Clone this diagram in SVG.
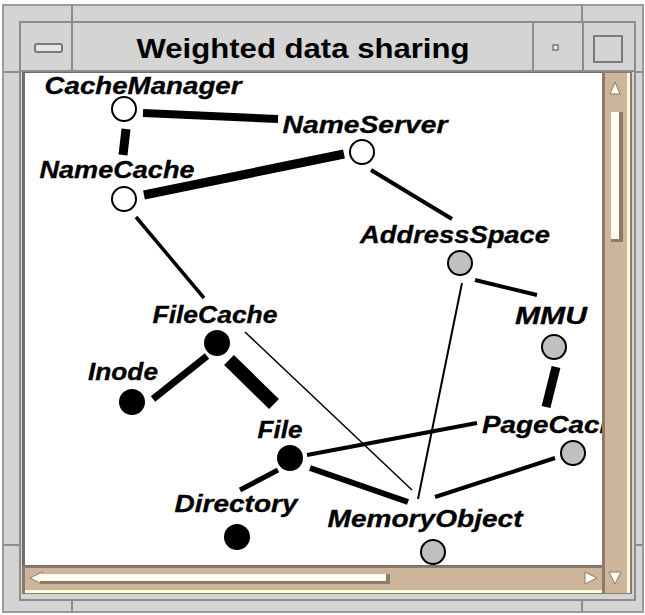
<svg xmlns="http://www.w3.org/2000/svg" width="645" height="615" viewBox="0 0 645 615">
  <style>
    .frame { fill: #d4d4d4; stroke: #9a9a9a; stroke-width: 2; }
    .bevel { fill: none; stroke: #8c8c8c; stroke-width: 2; }
    .title { font-family: "Liberation Sans", Arial, sans-serif; font-weight: bold; font-size: 27px; fill: #000; }
    .label { font-family: "Liberation Sans", Arial, sans-serif; font-weight: bold; font-style: italic; font-size: 23px; fill: #000; stroke: #000; stroke-width: 0.3; }
    .edge { stroke: #000; fill: none; stroke-linecap: butt; }
    .node circle { stroke: #000; stroke-width: 2; }
    .open circle { fill: #fff; }
    .grey circle { fill: #c0c0c0; }
    .solid circle { fill: #000; }
    .trough { fill: #cdb59c; }
  </style>
  <defs>
    <clipPath id="canvasClip">
      <rect x="25" y="73" width="577" height="492"/>
    </clipPath>
  </defs>

  <!-- window frame -->
  <rect x="0" y="0" width="645" height="615" fill="#ffffff"/>
  <rect class="frame" x="3" y="5" width="640" height="607"/>
  <rect class="bevel" x="20" y="22" width="615" height="578"/>
  <g stroke="#8c8c8c" stroke-width="2">
    <line x1="72" y1="5" x2="72" y2="22"/>
    <line x1="582" y1="5" x2="582" y2="22"/>
    <line x1="72" y1="600" x2="72" y2="612"/>
    <line x1="582" y1="600" x2="582" y2="612"/>
    <line x1="3" y1="72" x2="20" y2="72"/>
    <line x1="3" y1="545" x2="20" y2="545"/>
    <line x1="635" y1="72" x2="643" y2="72"/>
    <line x1="635" y1="545" x2="643" y2="545"/>
    <!-- title bar dividers -->
    <line x1="72" y1="22" x2="72" y2="72"/>
    <line x1="533" y1="22" x2="533" y2="72"/>
    <line x1="583" y1="22" x2="583" y2="72"/>
    <line x1="20" y1="71" x2="635" y2="71"/>
  </g>

  <!-- title bar buttons -->
  <rect x="35" y="44" width="27" height="8" rx="2" fill="#e6e6e6" stroke="#7a7a7a" stroke-width="2"/>
  <rect x="553" y="45" width="5" height="5" fill="#e6e6e6" stroke="#7a7a7a" stroke-width="1.5"/>
  <rect x="594" y="36" width="28" height="26" fill="none" stroke="#7a7a7a" stroke-width="2"/>
  <text class="title" x="303" y="58" text-anchor="middle" textLength="333" lengthAdjust="spacingAndGlyphs">Weighted data sharing</text>

  <!-- drawing canvas -->
  <rect x="22" y="72" width="581" height="494" fill="#6e6e6e"/>
  <rect x="25" y="73" width="577" height="492" fill="#ffffff"/>

  <!-- vertical scrollbar -->
  <rect x="602" y="72" width="30" height="522" fill="#8c7b68"/>
  <rect class="trough" x="605" y="73" width="22" height="520"/>
  <rect x="627" y="73" width="3" height="520" fill="#fffbe0"/>
  <polygon points="610,94 615,82 620,94" fill="#fff8ec" stroke="#8c7b68" stroke-width="1"/>
  <rect x="611" y="112" width="12" height="130" fill="#8c7b68"/>
  <rect x="611" y="112" width="8" height="127" fill="#fffcf2"/>
  <polygon points="609,572 621,572 615,584" fill="#fff8ec" stroke="#8c7b68" stroke-width="1"/>

  <!-- horizontal scrollbar -->
  <rect x="22" y="566" width="581" height="28" fill="#8c7b68"/>
  <rect class="trough" x="25" y="568" width="577" height="22"/>
  <rect x="25" y="590" width="577" height="3" fill="#fffbe0"/>
  <polygon points="42,572 30,578 42,584" fill="#fff8ec" stroke="#8c7b68" stroke-width="1"/>
  <rect x="40" y="574" width="350" height="10" fill="#8c7b68"/>
  <rect x="40" y="574" width="346" height="7" fill="#fffcf2"/>
  <polygon points="585,572 597,578 585,584" fill="#fff8ec" stroke="#8c7b68" stroke-width="1"/>

  <g clip-path="url(#canvasClip)">
    <!-- connectors -->
    <g id="connectors" class="edge">
      <line x1="143" y1="113" x2="278" y2="119" stroke-width="8"/>
      <line x1="126" y1="129" x2="123" y2="155" stroke-width="9"/>
      <line x1="144" y1="195" x2="344" y2="154" stroke-width="9"/>
      <line x1="136" y1="217" x2="204" y2="298" stroke-width="3.5"/>
      <line x1="371" y1="170" x2="452" y2="219" stroke-width="4"/>
      <line x1="475" y1="280" x2="537" y2="295" stroke-width="4"/>
      <line x1="462" y1="283" x2="418" y2="499" stroke-width="2"/>
      <line x1="556" y1="367" x2="546" y2="407" stroke-width="9"/>
      <line x1="207" y1="356" x2="153" y2="399" stroke-width="7"/>
      <line x1="229" y1="360" x2="274" y2="404" stroke-width="14"/>
      <line x1="245" y1="332" x2="412" y2="490" stroke-width="1.5"/>
      <line x1="278" y1="470" x2="240" y2="490" stroke-width="5"/>
      <line x1="307" y1="455" x2="477" y2="423" stroke-width="4"/>
      <line x1="310" y1="468" x2="408" y2="502" stroke-width="6"/>
      <line x1="435" y1="497" x2="555" y2="458" stroke-width="4"/>
    </g>

    <!-- nodes -->
    <g id="CacheManager" class="node open">
      <circle cx="124" cy="109" r="12"/>
      <text class="label" x="143" y="94" text-anchor="middle" textLength="197" lengthAdjust="spacingAndGlyphs">CacheManager</text>
    </g>
    <g id="NameServer" class="node open">
      <circle cx="362" cy="152" r="12"/>
      <text class="label" x="365" y="133" text-anchor="middle" textLength="165" lengthAdjust="spacingAndGlyphs">NameServer</text>
    </g>
    <g id="NameCache" class="node open">
      <circle cx="124" cy="199" r="12"/>
      <text class="label" x="117" y="178" text-anchor="middle" textLength="155" lengthAdjust="spacingAndGlyphs">NameCache</text>
    </g>
    <g id="AddressSpace" class="node grey">
      <circle cx="460" cy="263" r="12"/>
      <text class="label" x="455" y="243" text-anchor="middle" textLength="190" lengthAdjust="spacingAndGlyphs">AddressSpace</text>
    </g>
    <g id="MMU" class="node grey">
      <circle cx="554" cy="347" r="12"/>
      <text class="label" x="551" y="324" text-anchor="middle" textLength="72" lengthAdjust="spacingAndGlyphs">MMU</text>
    </g>
    <g id="FileCache" class="node solid">
      <circle cx="217" cy="343" r="12"/>
      <text class="label" x="215" y="323" text-anchor="middle" textLength="125" lengthAdjust="spacingAndGlyphs">FileCache</text>
    </g>
    <g id="Inode" class="node solid">
      <circle cx="132" cy="402" r="12"/>
      <text class="label" x="123" y="380" text-anchor="middle" textLength="70" lengthAdjust="spacingAndGlyphs">Inode</text>
    </g>
    <g id="File" class="node solid">
      <circle cx="290" cy="458" r="12"/>
      <text class="label" x="280" y="438" text-anchor="middle" textLength="45" lengthAdjust="spacingAndGlyphs">File</text>
    </g>
    <g id="PageCache" class="node grey">
      <circle cx="573" cy="453" r="12"/>
      <text class="label" x="482" y="433" textLength="150" lengthAdjust="spacingAndGlyphs">PageCache</text>
    </g>
    <g id="Directory" class="node solid">
      <circle cx="237" cy="537" r="12"/>
      <text class="label" x="236" y="512" text-anchor="middle" textLength="123" lengthAdjust="spacingAndGlyphs">Directory</text>
    </g>
    <g id="MemoryObject" class="node grey">
      <circle cx="433" cy="552" r="12"/>
      <text class="label" x="425" y="527" text-anchor="middle" textLength="195" lengthAdjust="spacingAndGlyphs">MemoryObject</text>
    </g>
  </g>
</svg>
